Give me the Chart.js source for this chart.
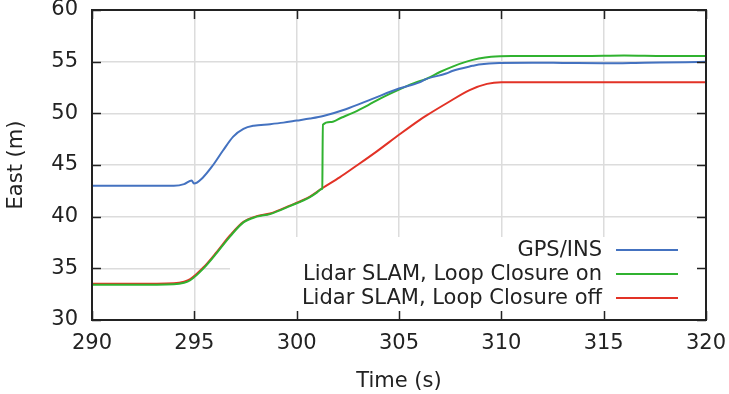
<!DOCTYPE html>
<html>
<head>
<meta charset="utf-8">
<script src="https://cdn.jsdelivr.net/npm/chart.js"></script>
<style>
  html, body { margin: 0; padding: 0; background: #fff; }
  #wrap { width: 729px; height: 394px; }
</style>
</head>
<body>
<div id="wrap"><canvas id="east-chart" width="729" height="394"></canvas></div>
<script>
/* ==========================
   Data
========================== */
const gpsTime = [290, 293, 294, 294.5, 294.87, 294.98, 295.4, 295.9, 296.4, 296.9, 297.4, 297.9, 298.7, 299.35, 300, 300.65, 301.3, 302.4, 303.7, 305, 306.0, 306.3, 307.3, 307.6, 308.6, 308.9, 309.9, 311.5, 313, 315, 317, 319, 320];
const gpsEast = [43.0, 43.0, 43.0, 43.15, 43.5, 43.2, 43.75, 44.95, 46.4, 47.75, 48.5, 48.8, 48.95, 49.1, 49.3, 49.5, 49.75, 50.4, 51.4, 52.4, 53.0, 53.3, 53.85, 54.1, 54.6, 54.72, 54.88, 54.9, 54.88, 54.85, 54.9, 54.95, 54.98];

const loopOnTime = [290, 292, 294, 294.5, 294.8, 295.45, 296.1, 296.75, 297.4, 298.05, 298.7, 299.7, 300.65, 301.0, 301.2, 301.25, 301.28, 301.65, 302.2, 302.8, 303.5, 304.1, 305, 305.7, 306.35, 307, 307.65, 308.3, 308.9, 309.5, 310.5, 312, 314, 316, 318, 320];
const loopOnEast = [33.4, 33.4, 33.45, 33.6, 33.85, 35.0, 36.5, 38.1, 39.45, 40.0, 40.25, 41.05, 41.9, 42.35, 42.65, 42.72, 48.9, 49.15, 49.6, 50.1, 50.8, 51.45, 52.3, 52.9, 53.35, 54.0, 54.55, 55.0, 55.3, 55.48, 55.55, 55.55, 55.55, 55.6, 55.55, 55.55];

const loopOffTime = [290, 292, 294, 294.5, 294.8, 295.45, 296.1, 296.75, 297.4, 298.05, 298.7, 299.7, 300.65, 301.25, 302.1, 302.9, 303.9, 305.05, 306.0, 306.35, 307.35, 308.45, 309.3, 310, 312, 315, 318, 320];
const loopOffEast = [33.5, 33.5, 33.55, 33.7, 33.95, 35.1, 36.6, 38.2, 39.5, 40.05, 40.3, 41.1, 41.95, 42.75, 43.8, 44.9, 46.3, 48.0, 49.35, 49.8, 51.0, 52.25, 52.85, 53.0, 53.0, 53.0, 53.0, 53.0];

const seriesLabels = ['GPS/INS', 'Lidar SLAM, Loop Closure on', 'Lidar SLAM, Loop Closure off'];
const xTicks = [290, 295, 300, 305, 310, 315, 320];
const yTicks = [30, 35, 40, 45, 50, 55, 60];

const FONT = "'DejaVu Sans', sans-serif";
const FONT_SIZE = 21;

function toPoints(ts, vs) {
  return ts.map((t, i) => ({ x: t, y: vs[i] }));
}

/* ==========================
   Gnuplot-ish frame, inner ticks and key
========================== */
const framePlugin = {
  id: 'frame',
  beforeDatasetsDraw(chart) {
    // white key box hides the grid behind the legend
    const { ctx, chartArea: a } = chart;
    ctx.save();
    ctx.fillStyle = '#fff';
    ctx.fillRect(a.left + 138, a.bottom - 83, a.right - a.left - 139, 82);
    ctx.restore();
  },
  afterDatasetsDraw(chart) {
    const { ctx, chartArea: a, scales } = chart;
    ctx.save();
    ctx.strokeStyle = '#222';
    ctx.lineWidth = 1.5;
    ctx.beginPath();
    xTicks.forEach(v => {
      const px = Math.round(scales.x.getPixelForValue(v)) + 0.5;
      ctx.moveTo(px, a.bottom); ctx.lineTo(px, a.bottom - 9);
      ctx.moveTo(px, a.top); ctx.lineTo(px, a.top + 9);
    });
    yTicks.forEach(v => {
      const py = Math.round(scales.y.getPixelForValue(v)) + 0.5;
      ctx.moveTo(a.left, py); ctx.lineTo(a.left + 9, py);
      ctx.moveTo(a.right, py); ctx.lineTo(a.right - 9, py);
    });
    ctx.stroke();
    ctx.lineWidth = 2;
    ctx.strokeRect(a.left, a.top, a.right - a.left, a.bottom - a.top);

    // key
    ctx.font = FONT_SIZE + 'px ' + FONT;
    ctx.textAlign = 'right';
    ctx.textBaseline = 'middle';
    chart.data.datasets.forEach((ds, i) => {
      const y = a.bottom - 70 + i * 24;
      ctx.fillStyle = '#222';
      ctx.fillText(ds.label, a.right - 104, y + 1);
      ctx.strokeStyle = ds.borderColor;
      ctx.lineWidth = 2;
      ctx.beginPath();
      ctx.moveTo(a.right - 90, y);
      ctx.lineTo(a.right - 28, y);
      ctx.stroke();
    });
    ctx.restore();
  }
};

/* ==========================
   Chart Initialization
========================== */
const ctx = document.getElementById('east-chart');
const eastChart = new Chart(ctx.getContext('2d'), {
  type: 'line',
  data: {
    datasets: [
      {
        label: seriesLabels[0],
        data: toPoints(gpsTime, gpsEast),
        borderColor: 'rgb(68, 114, 192)',
      },
      {
        label: seriesLabels[1],
        data: toPoints(loopOnTime, loopOnEast),
        borderColor: 'rgb(48, 178, 48)',
      },
      {
        label: seriesLabels[2],
        data: toPoints(loopOffTime, loopOffEast),
        borderColor: 'rgb(226, 50, 38)',
      },
    ].map(ds => Object.assign(ds, {
      borderWidth: 2,
      pointRadius: 0,
      fill: false,
      cubicInterpolationMode: 'monotone',
    })),
  },
  options: {
    responsive: false,
    animation: false,
    layout: { padding: { left: 0, right: 23, top: 10, bottom: 0 } },
    plugins: {
      legend: { display: false },
      tooltip: { enabled: false },
    },
    scales: {
      x: {
        type: 'linear',
        min: 290,
        max: 320,
        afterBuildTicks: s => { s.ticks = xTicks.map(v => ({ value: v })); },
        afterFit: s => { s.height = 74; s.paddingLeft = 0; s.paddingRight = 0; },
        ticks: { color: '#222', font: { family: FONT, size: FONT_SIZE }, padding: 11, maxRotation: 0 },
        grid: { color: '#dcdcdc', lineWidth: 1.5, drawTicks: false },
        border: { display: false },
        title: {
          display: true,
          text: 'Time (s)',
          color: '#222',
          font: { family: FONT, size: FONT_SIZE },
          padding: { top: 0, bottom: 0 },
        },
      },
      y: {
        min: 30,
        max: 60,
        afterBuildTicks: s => { s.ticks = yTicks.map(v => ({ value: v })); },
        afterFit: s => { s.width = 92; s.paddingTop = 0; s.paddingBottom = 0; },
        ticks: { color: '#222', font: { family: FONT, size: FONT_SIZE }, padding: 14 },
        grid: { color: '#dcdcdc', lineWidth: 1.5, drawTicks: false },
        border: { display: false },
        title: {
          display: true,
          text: 'East (m)',
          color: '#222',
          font: { family: FONT, size: FONT_SIZE },
          padding: { top: 4, bottom: 0 },
        },
      },
    },
  },
  plugins: [framePlugin],
});
</script>
</body>
</html>
